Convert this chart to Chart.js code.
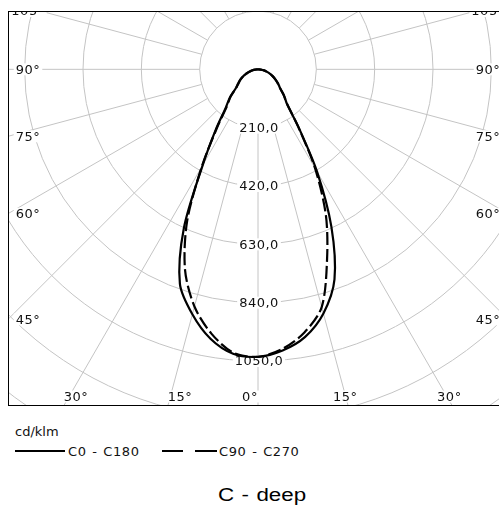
<!DOCTYPE html>
<html>
<head>
<meta charset="utf-8">
<script src="https://cdn.jsdelivr.net/npm/chart.js@4.4.1/dist/chart.umd.min.js"></script>
<style>
  html, body { margin:0; padding:0; background:#fff; overflow:hidden; width:499px; height:507px; }
  #wrap { position:relative; width:499px; height:507px; overflow:hidden; }
  canvas { position:absolute; left:0; top:0; }
  .t { position:absolute; font-family:"DejaVu Sans"; font-size:13px; line-height:14px; color:#111; white-space:nowrap; }
  .lg { word-spacing:1px; letter-spacing:0.6px; }
  .ln { position:absolute; height:2px; background:#000; }
  #title { position:absolute; left:218px; top:486px; font-family:"Liberation Sans", Arial, sans-serif; font-size:18px; line-height:18px; color:#000; white-space:nowrap; transform:scaleX(1.24); transform-origin:0 0; word-spacing:1px; }
</style>
</head>
<body>
<div id="wrap">
  <canvas id="c" width="516" height="420"></canvas>
  <div class="t" style="left:15px;top:425px;">cd/klm</div>
  <div class="ln" style="left:15px;top:450px;width:50px;"></div>
  <div class="t lg" style="left:68px;top:445px;">C0 - C180</div>
  <div class="ln" style="left:162px;top:450px;width:21px;"></div>
  <div class="ln" style="left:195px;top:450px;width:22px;"></div>
  <div class="t lg" style="left:219px;top:445px;">C90 - C270</div>
  <div id="title">C - deep</div>
</div>
<script>
// ---- data (luminous intensity, cd/klm) ----
const gammaAngles = [0,5,10,15,20,25,30,35,40,45,50,55,60,65,70,75,80,85,90];
const c0   = [1036,1016,978,910,805,625,425,255,162,132,103,88,72,58,45,32,22,10,0];
const c180 = [1035,1028,985,913,822,632,398,265,181,143,103,87,73,59,44,31,21,10,0];
const c90  = [1035,1010,962,886,727,578,410,252,163,130,101,86,72,58,45,32,22,10,0];
const c270 = [1035,1024,966,884,768,604,405,258,175,140,101,84,72,58,44,30,20,10,0];
const ringValues = [210,420,630,840,1050,1260,1470,1680];
const ringLabels = ['210,0','420,0','630,0','840,0','1050,0'];
const spokeAngles = [-165,-150,-135,-120,-105,-90,-75,-60,-45,-30,-15,0,15,30,45,60,75,90,105,120,135,150,165,180];
const angleLabelAngles = [-105,-90,-75,-60,-45,-30,-15,0,15,30,45,60,75,90,105];

function buildPoints(left, right) {
  const pts = [];
  for (let i = gammaAngles.length - 1; i >= 0; i--) {
    const t = gammaAngles[i] * Math.PI / 180;
    pts.push({ x: -left[i] * Math.sin(t), y: -left[i] * Math.cos(t) });
  }
  for (let i = 1; i < gammaAngles.length; i++) {
    const t = gammaAngles[i] * Math.PI / 180;
    pts.push({ x: right[i] * Math.sin(t), y: -right[i] * Math.cos(t) });
  }
  return pts;
}

const polarGrid = {
  id: 'polarGrid',
  beforeDatasetsDraw(chart) {
    const { ctx, chartArea: a, scales: { x, y } } = chart;
    const cx = x.getPixelForValue(0), cy = y.getPixelForValue(0);
    const rad = v => x.getPixelForValue(v) - cx;
    ctx.save();
    ctx.beginPath();
    ctx.rect(a.left, a.top, a.right - a.left, a.bottom - a.top);
    ctx.clip();
    ctx.strokeStyle = '#c4c4c4';
    ctx.lineWidth = 1;
    ringValues.forEach(v => {
      ctx.beginPath(); ctx.arc(cx, cy, rad(v), 0, Math.PI * 2); ctx.stroke();
    });
    const r0 = rad(ringValues[0]), r1 = rad(ringValues[ringValues.length - 1]);
    spokeAngles.forEach(g => {
      const t = g * Math.PI / 180, dx = Math.sin(t), dy = Math.cos(t);
      ctx.beginPath();
      ctx.moveTo(cx + dx * r0, cy + dy * r0);
      ctx.lineTo(cx + dx * r1, cy + dy * r1);
      ctx.stroke();
    });

    ctx.font = '13px "DejaVu Sans"';
    try { ctx.letterSpacing = '0.5px'; } catch (e) {}
    ctx.textBaseline = 'middle';
    function label(text, px, py, align) {
      const w = ctx.measureText(text).width;
      let lx = align === 'left' ? px : align === 'right' ? px - w : px - w / 2;
      ctx.fillStyle = '#fff';
      ctx.fillRect(lx - 2, py - 6, w + 4, 12);
      ctx.fillStyle = '#111';
      ctx.textAlign = 'left';
      ctx.fillText(text, lx, py + 1);
    }
    ringLabels.forEach((s, i) => label(s, cx + 1, cy + rad(ringValues[i]), 'center'));

    angleLabelAngles.forEach(g => {
      const t = g * Math.PI / 180, dx = Math.sin(t), dy = Math.cos(t);
      const tSide = dx < -1e-9 ? (a.left - cx) / dx : dx > 1e-9 ? (a.right - cx) / dx : Infinity;
      const tBot = dy > 1e-9 ? (a.bottom - cy) / dy : Infinity;
      const txt = Math.abs(g) + '°';
      if (tSide <= tBot) {
        const yy = Math.max(cy + dy * tSide, a.top);
        const xx = dx < 0 ? a.left + 20 : a.right - 20;
        label(txt, xx, yy, 'center');
      } else {
        const ix = cx + dx * tBot, yy = a.bottom - 9.5;
        if (g < 0) label(txt, ix, yy, 'left');
        else if (g > 0) label(txt, ix - 3, yy, 'center');
        else label(txt, ix - 8, yy, 'center');
      }
    });
    ctx.restore();
  },
  afterDraw(chart) {
    const { ctx, chartArea: a } = chart;
    ctx.save();
    ctx.strokeStyle = '#000';
    ctx.lineWidth = 1;
    ctx.strokeRect(a.left + 0.5, a.top + 0.5, a.right - a.left - 1, a.bottom - a.top - 1);
    ctx.restore();
  }
};

new Chart(document.getElementById('c'), {
  type: 'scatter',
  data: {
    datasets: [
      { label: 'C0 - C180', data: buildPoints(c180, c0), showLine: true, borderColor: '#000', borderWidth: 2.2, pointRadius: 0, tension: 0.3, fill: false },
      { label: 'C90 - C270', data: buildPoints(c270, c90), showLine: true, borderColor: '#000', borderWidth: 2.2, borderDash: [13, 4], pointRadius: 0, tension: 0.3, fill: false }
    ]
  },
  options: {
    responsive: false,
    animation: false,
    devicePixelRatio: 1,
    layout: { padding: { left: 8, top: 11, right: 8, bottom: 14 } },
    plugins: { legend: { display: false }, tooltip: { enabled: false } },
    scales: {
      x: { type: 'linear', min: -900, max: 900, display: false },
      y: { type: 'linear', min: -1212, max: 210, display: false }
    }
  },
  plugins: [polarGrid]
});
</script>
</body>
</html>
